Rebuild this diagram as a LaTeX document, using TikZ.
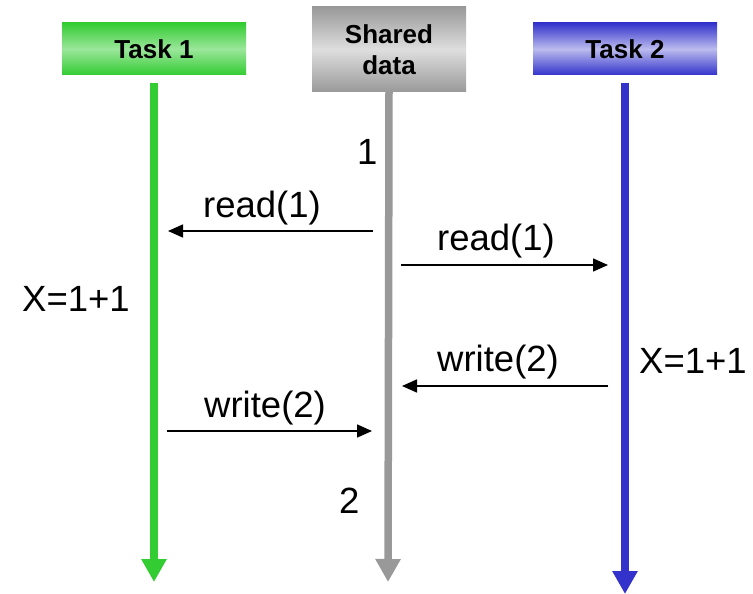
\documentclass[tikz,border=0pt]{standalone}
\usepackage{fontspec}
\setmainfont{Liberation Sans}
\usetikzlibrary{arrows.meta}
\definecolor{tgreen}{HTML}{33CC33}
\definecolor{tgreenl}{HTML}{9BE69B}
\definecolor{tgray}{HTML}{999999}
\definecolor{tgrayl}{HTML}{DEDEDE}
\definecolor{tblue}{HTML}{3333CC}
\definecolor{tbluel}{HTML}{BBBBEE}
\tikzset{
  hdr/.style={minimum width=184pt, minimum height=52pt, inner sep=0pt, align=center,
    font=\fontsize{26}{31}\selectfont\bfseries},
  life/.style={line width=7.5pt, -{Triangle[width=24pt,length=23pt]}},
  msg/.style={line width=1.6pt, -{Triangle[width=13pt,length=15pt]}},
  lbl/.style={inner sep=0pt, anchor=base west, font=\fontsize{36.5}{42}\selectfont}
}
\begin{document}
\begin{tikzpicture}[x=1pt,y=-1pt]
\useasboundingbox (0,0) rectangle (753,594);
% headers
\node[hdr, top color=tgreen, bottom color=tgreen, middle color=tgreenl] (task1) at (154,49) {Task 1};
\node[hdr, minimum width=154pt, minimum height=85pt, top color=tgray, bottom color=tgray, middle color=tgrayl] (shared) at (389,49.5) {Shared\\data};
\node[hdr, top color=tblue, bottom color=tblue, middle color=tbluel] (task2) at (625,49) {Task 2};
% lifelines
\coordinate (t1a) at (154,83);
\coordinate (t1b) at (154,582);
\coordinate (sha) at (shared.south);
\coordinate (shb) at (388,582);
\coordinate (t2a) at (625,83);
\coordinate (t2b) at (625,594);
\draw[life, tgreen] (t1a) -- (t1b);
\draw[life, tgray] (sha) -- (shb);
\draw[life, tblue] (t2a) -- (t2b);
% message endpoints
\coordinate (m1s) at (373,231); \coordinate (m1e) at (168,231);
\coordinate (m2s) at (401,265); \coordinate (m2e) at (608,265);
\coordinate (m3s) at (608,386); \coordinate (m3e) at (402,386);
\coordinate (m4s) at (167,431); \coordinate (m4e) at (372,431);
\draw[msg] (m1s) -- (m1e);
\draw[msg] (m2s) -- (m2e);
\draw[msg] (m3s) -- (m3e);
\draw[msg] (m4s) -- (m4e);
% labels
\node[lbl] (l1) at (203,217) {read(1)};
\node[lbl] (l2) at (437,250) {read(1)};
\node[lbl] (l3) at (437,371) {write(2)};
\node[lbl] (l4) at (204,417) {write(2)};
\node[lbl] (v1) at (357,164) {1};
\node[lbl] (v2) at (339,513) {2};
\node[lbl] (x1) at (22,311) {X=1+1};
\node[lbl] (x2) at (639,373) {X=1+1};
\end{tikzpicture}
\end{document}
